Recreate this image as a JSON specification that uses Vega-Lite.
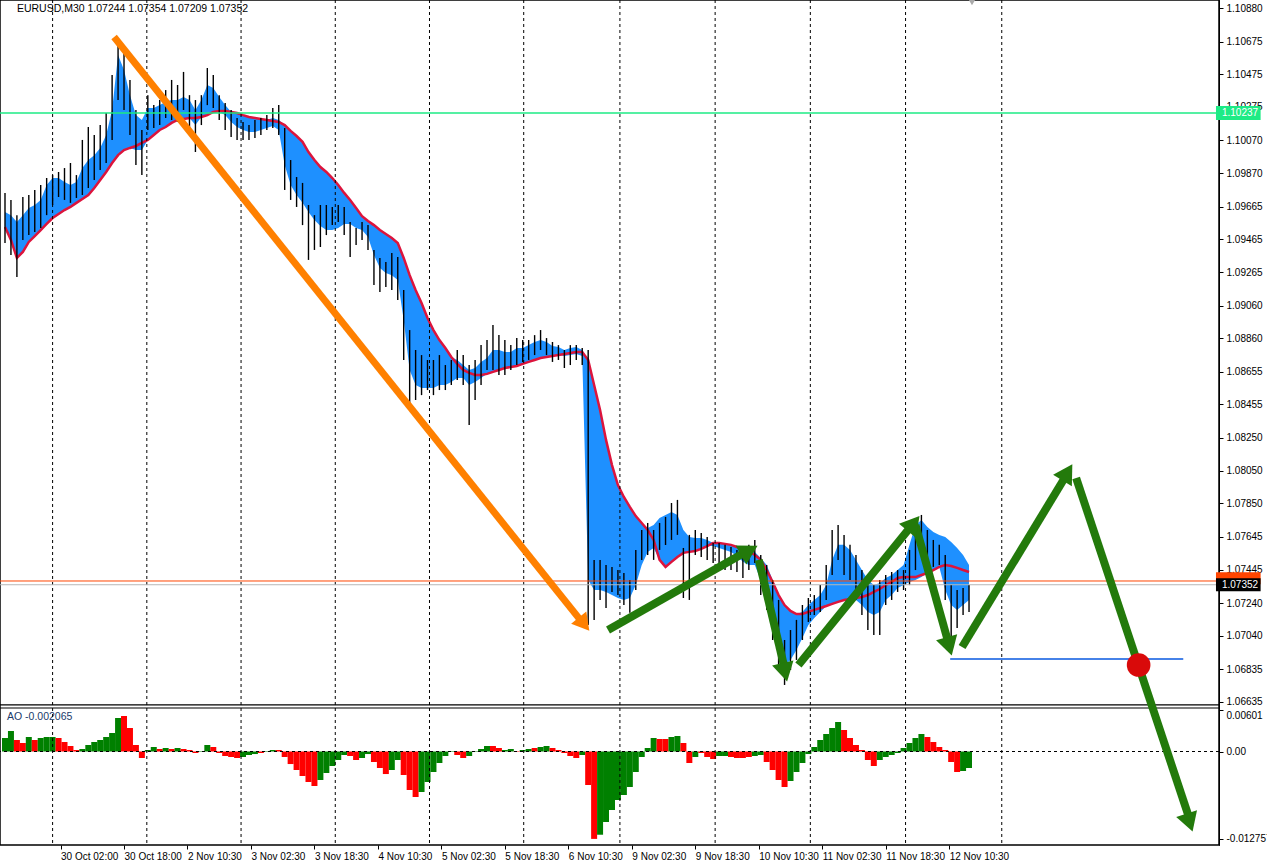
{
"$schema": "https://vega.github.io/schema/vega-lite/v6.json",
"width": 1219, "height": 845,
"autosize": {"type": "none"},
"padding": {"left": 0, "top": 0, "right": 48, "bottom": 17},
"background": "white",
"config": {"view": {"stroke": "black", "strokeWidth": 1.5}, "axis": {"labelFont": "Liberation Sans", "labelFontSize": 10, "labelColor": "#000000", "tickColor": "#000000", "domainColor": "#000000", "tickSize": 4}, "text": {"font": "Liberation Sans"}},
"datasets": {
"bars": [
{"i":0,"h":1.09749,"l":1.09443,"m":1.09540,"a":1.09632,"b":1.09540,"ao":0.00197,"c":"g"},
{"i":3,"h":1.09706,"l":1.09369,"m":1.09461,"a":1.09613,"b":1.09461,"ao":0.00299,"c":"g"},
{"i":6,"h":1.09613,"l":1.09234,"m":1.09351,"a":1.09571,"b":1.09351,"ao":0.00168,"c":"r"},
{"i":9,"h":1.09724,"l":1.09461,"m":1.09388,"a":1.09613,"b":1.09388,"ao":0.00124,"c":"r"},
{"i":12,"h":1.09736,"l":1.09491,"m":1.09449,"a":1.09657,"b":1.09449,"ao":0.00212,"c":"g"},
{"i":15,"h":1.09767,"l":1.09510,"m":1.09485,"a":1.09675,"b":1.09485,"ao":0.00168,"c":"r"},
{"i":18,"h":1.09797,"l":1.09534,"m":1.09522,"a":1.09706,"b":1.09522,"ao":0.00197,"c":"g"},
{"i":21,"h":1.09840,"l":1.09613,"m":1.09559,"a":1.09797,"b":1.09559,"ao":0.00212,"c":"g"},
{"i":24,"h":1.09858,"l":1.09675,"m":1.09595,"a":1.09840,"b":1.09595,"ao":0.00212,"c":"g"},
{"i":27,"h":1.09877,"l":1.09724,"m":1.09620,"a":1.09840,"b":1.09620,"ao":0.00197,"c":"r"},
{"i":30,"h":1.09901,"l":1.09706,"m":1.09644,"a":1.09816,"b":1.09644,"ao":0.00139,"c":"r"},
{"i":33,"h":1.09932,"l":1.09688,"m":1.09663,"a":1.09797,"b":1.09663,"ao":0.00080,"c":"r"},
{"i":36,"h":1.09858,"l":1.09718,"m":1.09688,"a":1.09816,"b":1.09688,"ao":0.00022,"c":"r"},
{"i":39,"h":1.10073,"l":1.09736,"m":1.09712,"a":1.09901,"b":1.09712,"ao":0.00037,"c":"g"},
{"i":42,"h":1.10152,"l":1.09779,"m":1.09736,"a":1.09950,"b":1.09736,"ao":0.00095,"c":"g"},
{"i":45,"h":1.10103,"l":1.09828,"m":1.09779,"a":1.09980,"b":1.09779,"ao":0.00139,"c":"g"},
{"i":48,"h":1.10164,"l":1.09889,"m":1.09828,"a":1.10024,"b":1.09828,"ao":0.00168,"c":"g"},
{"i":51,"h":1.10238,"l":1.09932,"m":1.09877,"a":1.10103,"b":1.09877,"ao":0.00212,"c":"g"},
{"i":54,"h":1.10470,"l":1.10073,"m":1.09932,"a":1.10256,"b":1.09932,"ao":0.00270,"c":"g"},
{"i":57,"h":1.10690,"l":1.10317,"m":1.09980,"a":1.10592,"b":1.09980,"ao":0.00489,"c":"g"},
{"i":60,"h":1.10653,"l":1.10256,"m":1.10011,"a":1.10501,"b":1.10011,"ao":0.00518,"c":"r"},
{"i":63,"h":1.10440,"l":1.10103,"m":1.10024,"a":1.10347,"b":1.10024,"ao":0.00343,"c":"r"},
{"i":66,"h":1.10256,"l":1.09919,"m":1.10036,"a":1.10225,"b":1.10011,"ao":0.00095,"c":"r"},
{"i":69,"h":1.10134,"l":1.09858,"m":1.10055,"a":1.10195,"b":1.10011,"ao":-0.00095,"c":"r"},
{"i":72,"h":1.10347,"l":1.10134,"m":1.10073,"a":1.10268,"b":1.10073,"ao":0.00022,"c":"g"},
{"i":75,"h":1.10286,"l":1.10146,"m":1.10103,"a":1.10268,"b":1.10103,"ao":0.00066,"c":"g"},
{"i":78,"h":1.10317,"l":1.10164,"m":1.10134,"a":1.10286,"b":1.10134,"ao":0.00037,"c":"r"},
{"i":81,"h":1.10378,"l":1.10207,"m":1.10152,"a":1.10305,"b":1.10152,"ao":0.00051,"c":"g"},
{"i":84,"h":1.10440,"l":1.10195,"m":1.10177,"a":1.10317,"b":1.10177,"ao":0.00037,"c":"r"},
{"i":87,"h":1.10409,"l":1.10183,"m":1.10195,"a":1.10317,"b":1.10195,"ao":0.00051,"c":"g"},
{"i":90,"h":1.10489,"l":1.10256,"m":1.10201,"a":1.10335,"b":1.10201,"ao":0.00037,"c":"r"},
{"i":93,"h":1.10347,"l":1.10146,"m":1.10207,"a":1.10317,"b":1.10207,"ao":0.00022,"c":"r"},
{"i":96,"h":1.10317,"l":1.09999,"m":1.10207,"a":1.10256,"b":1.10164,"ao":-0.00022,"c":"r"},
{"i":99,"h":1.10347,"l":1.10164,"m":1.10213,"a":1.10317,"b":1.10213,"ao":-0.00007,"c":"g"},
{"i":102,"h":1.10513,"l":1.10286,"m":1.10225,"a":1.10409,"b":1.10225,"ao":0.00095,"c":"g"},
{"i":105,"h":1.10470,"l":1.10268,"m":1.10244,"a":1.10391,"b":1.10244,"ao":0.00066,"c":"r"},
{"i":108,"h":1.10347,"l":1.10195,"m":1.10250,"a":1.10335,"b":1.10244,"ao":-0.00022,"c":"r"},
{"i":111,"h":1.10299,"l":1.10134,"m":1.10250,"a":1.10286,"b":1.10225,"ao":-0.00066,"c":"r"},
{"i":114,"h":1.10256,"l":1.10091,"m":1.10244,"a":1.10244,"b":1.10183,"ao":-0.00080,"c":"r"},
{"i":117,"h":1.10207,"l":1.10073,"m":1.10238,"a":1.10238,"b":1.10152,"ao":-0.00095,"c":"r"},
{"i":120,"h":1.10183,"l":1.10073,"m":1.10225,"a":1.10225,"b":1.10134,"ao":-0.00080,"c":"g"},
{"i":123,"h":1.10164,"l":1.10073,"m":1.10213,"a":1.10213,"b":1.10122,"ao":-0.00051,"c":"g"},
{"i":126,"h":1.10195,"l":1.10085,"m":1.10207,"a":1.10207,"b":1.10122,"ao":-0.00037,"c":"g"},
{"i":129,"h":1.10207,"l":1.10103,"m":1.10201,"a":1.10201,"b":1.10134,"ao":-0.00022,"c":"r"},
{"i":132,"h":1.10225,"l":1.10134,"m":1.10195,"a":1.10195,"b":1.10146,"ao":-0.00007,"c":"g"},
{"i":135,"h":1.10268,"l":1.10146,"m":1.10189,"a":1.10207,"b":1.10158,"ao":0.00022,"c":"g"},
{"i":138,"h":1.10286,"l":1.10103,"m":1.10183,"a":1.10195,"b":1.10134,"ao":0.00022,"c":"r"},
{"i":141,"h":1.10146,"l":1.09767,"m":1.10164,"a":1.10164,"b":1.09919,"ao":-0.00080,"c":"r"},
{"i":144,"h":1.09950,"l":1.09706,"m":1.10128,"a":1.10128,"b":1.09797,"ao":-0.00183,"c":"r"},
{"i":147,"h":1.09846,"l":1.09663,"m":1.10097,"a":1.10097,"b":1.09736,"ao":-0.00270,"c":"r"},
{"i":150,"h":1.09810,"l":1.09552,"m":1.10061,"a":1.10061,"b":1.09688,"ao":-0.00358,"c":"r"},
{"i":153,"h":1.09675,"l":1.09339,"m":1.09999,"a":1.09999,"b":1.09632,"ao":-0.00445,"c":"r"},
{"i":156,"h":1.09613,"l":1.09400,"m":1.09950,"a":1.09950,"b":1.09583,"ao":-0.00504,"c":"r"},
{"i":159,"h":1.09675,"l":1.09418,"m":1.09907,"a":1.09907,"b":1.09546,"ao":-0.00416,"c":"g"},
{"i":162,"h":1.09675,"l":1.09491,"m":1.09877,"a":1.09877,"b":1.09522,"ao":-0.00314,"c":"g"},
{"i":165,"h":1.09663,"l":1.09552,"m":1.09840,"a":1.09840,"b":1.09522,"ao":-0.00212,"c":"g"},
{"i":168,"h":1.09675,"l":1.09571,"m":1.09797,"a":1.09797,"b":1.09534,"ao":-0.00124,"c":"g"},
{"i":171,"h":1.09663,"l":1.09491,"m":1.09749,"a":1.09749,"b":1.09559,"ao":-0.00051,"c":"g"},
{"i":174,"h":1.09571,"l":1.09357,"m":1.09706,"a":1.09706,"b":1.09559,"ao":-0.00066,"c":"r"},
{"i":177,"h":1.09534,"l":1.09430,"m":1.09657,"a":1.09657,"b":1.09534,"ao":-0.00124,"c":"r"},
{"i":180,"h":1.09571,"l":1.09461,"m":1.09607,"a":1.09607,"b":1.09522,"ao":-0.00095,"c":"g"},
{"i":183,"h":1.09552,"l":1.09400,"m":1.09577,"a":1.09577,"b":1.09479,"ao":-0.00037,"c":"g"},
{"i":186,"h":1.09400,"l":1.09185,"m":1.09552,"a":1.09552,"b":1.09369,"ao":-0.00153,"c":"r"},
{"i":189,"h":1.09351,"l":1.09143,"m":1.09522,"a":1.09522,"b":1.09290,"ao":-0.00241,"c":"r"},
{"i":192,"h":1.09327,"l":1.09173,"m":1.09498,"a":1.09498,"b":1.09259,"ao":-0.00329,"c":"r"},
{"i":195,"h":1.09382,"l":1.09155,"m":1.09473,"a":1.09473,"b":1.09246,"ao":-0.00270,"c":"g"},
{"i":198,"h":1.09357,"l":1.09094,"m":1.09443,"a":1.09443,"b":1.09216,"ao":-0.00124,"c":"g"},
{"i":201,"h":1.09155,"l":1.08727,"m":1.09351,"a":1.09351,"b":1.08972,"ao":-0.00343,"c":"r"},
{"i":204,"h":1.08910,"l":1.08421,"m":1.09246,"a":1.09246,"b":1.08666,"ao":-0.00562,"c":"r"},
{"i":207,"h":1.08788,"l":1.08482,"m":1.09155,"a":1.09155,"b":1.08574,"ao":-0.00664,"c":"r"},
{"i":210,"h":1.08757,"l":1.08512,"m":1.09076,"a":1.09076,"b":1.08556,"ao":-0.00591,"c":"g"},
{"i":213,"h":1.08727,"l":1.08543,"m":1.08984,"a":1.08984,"b":1.08556,"ao":-0.00445,"c":"g"},
{"i":216,"h":1.08727,"l":1.08512,"m":1.08910,"a":1.08910,"b":1.08556,"ao":-0.00299,"c":"g"},
{"i":219,"h":1.08757,"l":1.08543,"m":1.08849,"a":1.08849,"b":1.08574,"ao":-0.00168,"c":"g"},
{"i":222,"h":1.08696,"l":1.08543,"m":1.08800,"a":1.08800,"b":1.08574,"ao":-0.00066,"c":"g"},
{"i":225,"h":1.08727,"l":1.08574,"m":1.08745,"a":1.08745,"b":1.08593,"ao":-0.00007,"c":"g"},
{"i":228,"h":1.08788,"l":1.08605,"m":1.08703,"a":1.08727,"b":1.08617,"ao":-0.00051,"c":"r"},
{"i":231,"h":1.08757,"l":1.08574,"m":1.08666,"a":1.08696,"b":1.08617,"ao":-0.00095,"c":"r"},
{"i":234,"h":1.08696,"l":1.08329,"m":1.08648,"a":1.08666,"b":1.08574,"ao":-0.00066,"c":"g"},
{"i":237,"h":1.08727,"l":1.08482,"m":1.08635,"a":1.08678,"b":1.08593,"ao":-0.00007,"c":"g"},
{"i":240,"h":1.08818,"l":1.08574,"m":1.08635,"a":1.08715,"b":1.08617,"ao":0.00037,"c":"g"},
{"i":243,"h":1.08849,"l":1.08666,"m":1.08642,"a":1.08739,"b":1.08642,"ao":0.00080,"c":"g"},
{"i":246,"h":1.08941,"l":1.08666,"m":1.08654,"a":1.08788,"b":1.08654,"ao":0.00080,"c":"r"},
{"i":249,"h":1.08879,"l":1.08635,"m":1.08666,"a":1.08788,"b":1.08666,"ao":0.00051,"c":"r"},
{"i":252,"h":1.08849,"l":1.08635,"m":1.08678,"a":1.08776,"b":1.08678,"ao":0.00022,"c":"g"},
{"i":255,"h":1.08818,"l":1.08666,"m":1.08684,"a":1.08776,"b":1.08684,"ao":0.00037,"c":"g"},
{"i":258,"h":1.08861,"l":1.08696,"m":1.08690,"a":1.08800,"b":1.08690,"ao":0.00007,"c":"r"},
{"i":261,"h":1.08849,"l":1.08715,"m":1.08703,"a":1.08800,"b":1.08703,"ao":0.00022,"c":"g"},
{"i":264,"h":1.08849,"l":1.08727,"m":1.08715,"a":1.08818,"b":1.08715,"ao":0.00037,"c":"g"},
{"i":267,"h":1.08879,"l":1.08757,"m":1.08727,"a":1.08837,"b":1.08727,"ao":0.00051,"c":"r"},
{"i":270,"h":1.08910,"l":1.08788,"m":1.08739,"a":1.08849,"b":1.08739,"ao":0.00066,"c":"g"},
{"i":273,"h":1.08861,"l":1.08757,"m":1.08745,"a":1.08837,"b":1.08745,"ao":0.00080,"c":"g"},
{"i":276,"h":1.08837,"l":1.08715,"m":1.08751,"a":1.08812,"b":1.08751,"ao":0.00051,"c":"r"},
{"i":279,"h":1.08818,"l":1.08727,"m":1.08757,"a":1.08806,"b":1.08757,"ao":0.00022,"c":"r"},
{"i":282,"h":1.08788,"l":1.08678,"m":1.08764,"a":1.08788,"b":1.08751,"ao":-0.00022,"c":"r"},
{"i":285,"h":1.08818,"l":1.08696,"m":1.08770,"a":1.08800,"b":1.08757,"ao":-0.00066,"c":"r"},
{"i":288,"h":1.08818,"l":1.08727,"m":1.08776,"a":1.08806,"b":1.08764,"ao":-0.00095,"c":"r"},
{"i":291,"h":1.08800,"l":1.08696,"m":1.08776,"a":1.08788,"b":1.08751,"ao":-0.00051,"c":"g"},
{"i":294,"h":1.08788,"l":1.07106,"m":1.08727,"a":1.08727,"b":1.07381,"ao":-0.00489,"c":"r"},
{"i":297,"h":1.07504,"l":1.07137,"m":1.08574,"a":1.08574,"b":1.07320,"ao":-0.01276,"c":"r"},
{"i":300,"h":1.07504,"l":1.07259,"m":1.08421,"a":1.08421,"b":1.07320,"ao":-0.01215,"c":"g"},
{"i":303,"h":1.07473,"l":1.07210,"m":1.08238,"a":1.08238,"b":1.07308,"ao":-0.01029,"c":"g"},
{"i":306,"h":1.07461,"l":1.07308,"m":1.08084,"a":1.08084,"b":1.07289,"ao":-0.00854,"c":"g"},
{"i":309,"h":1.07442,"l":1.07289,"m":1.07962,"a":1.07962,"b":1.07271,"ao":-0.00708,"c":"g"},
{"i":312,"h":1.07424,"l":1.07228,"m":1.07889,"a":1.07889,"b":1.07259,"ao":-0.00635,"c":"g"},
{"i":315,"h":1.07381,"l":1.07180,"m":1.07828,"a":1.07828,"b":1.07271,"ao":-0.00518,"c":"g"},
{"i":318,"h":1.07565,"l":1.07320,"m":1.07772,"a":1.07772,"b":1.07350,"ao":-0.00299,"c":"g"},
{"i":321,"h":1.07687,"l":1.07504,"m":1.07730,"a":1.07730,"b":1.07473,"ao":-0.00080,"c":"g"},
{"i":324,"h":1.07730,"l":1.07534,"m":1.07687,"a":1.07699,"b":1.07553,"ao":0.00051,"c":"g"},
{"i":327,"h":1.07687,"l":1.07504,"m":1.07626,"a":1.07718,"b":1.07577,"ao":0.00197,"c":"g"},
{"i":330,"h":1.07730,"l":1.07565,"m":1.07504,"a":1.07760,"b":1.07504,"ao":0.00183,"c":"r"},
{"i":333,"h":1.07767,"l":1.07595,"m":1.07461,"a":1.07779,"b":1.07461,"ao":0.00183,"c":"r"},
{"i":336,"h":1.07852,"l":1.07626,"m":1.07492,"a":1.07797,"b":1.07492,"ao":0.00212,"c":"g"},
{"i":339,"h":1.07871,"l":1.07657,"m":1.07522,"a":1.07779,"b":1.07522,"ao":0.00226,"c":"g"},
{"i":342,"h":1.07577,"l":1.07271,"m":1.07547,"a":1.07687,"b":1.07547,"ao":0.00124,"c":"r"},
{"i":345,"h":1.07657,"l":1.07259,"m":1.07553,"a":1.07644,"b":1.07553,"ao":-0.00168,"c":"r"},
{"i":348,"h":1.07687,"l":1.07534,"m":1.07559,"a":1.07638,"b":1.07559,"ao":-0.00080,"c":"g"},
{"i":351,"h":1.07669,"l":1.07522,"m":1.07571,"a":1.07638,"b":1.07571,"ao":-0.00022,"c":"r"},
{"i":354,"h":1.07644,"l":1.07504,"m":1.07589,"a":1.07626,"b":1.07589,"ao":-0.00080,"c":"r"},
{"i":357,"h":1.07608,"l":1.07485,"m":1.07608,"a":1.07608,"b":1.07589,"ao":-0.00110,"c":"r"},
{"i":360,"h":1.07608,"l":1.07473,"m":1.07608,"a":1.07608,"b":1.07577,"ao":-0.00066,"c":"g"},
{"i":363,"h":1.07596,"l":1.07442,"m":1.07602,"a":1.07602,"b":1.07565,"ao":-0.00066,"c":"g"},
{"i":366,"h":1.07583,"l":1.07442,"m":1.07596,"a":1.07596,"b":1.07553,"ao":-0.00080,"c":"r"},
{"i":369,"h":1.07565,"l":1.07430,"m":1.07583,"a":1.07583,"b":1.07528,"ao":-0.00095,"c":"r"},
{"i":372,"h":1.07534,"l":1.07393,"m":1.07571,"a":1.07571,"b":1.07492,"ao":-0.00095,"c":"r"},
{"i":375,"h":1.07596,"l":1.07442,"m":1.07559,"a":1.07565,"b":1.07473,"ao":-0.00080,"c":"r"},
{"i":378,"h":1.07626,"l":1.07485,"m":1.07534,"a":1.07553,"b":1.07473,"ao":-0.00066,"c":"g"},
{"i":381,"h":1.07534,"l":1.07289,"m":1.07504,"a":1.07516,"b":1.07381,"ao":-0.00051,"c":"g"},
{"i":384,"h":1.07473,"l":1.07198,"m":1.07442,"a":1.07473,"b":1.07289,"ao":-0.00153,"c":"r"},
{"i":387,"h":1.07381,"l":1.07014,"m":1.07369,"a":1.07381,"b":1.07137,"ao":-0.00270,"c":"r"},
{"i":390,"h":1.07259,"l":1.06831,"m":1.07289,"a":1.07289,"b":1.06984,"ao":-0.00416,"c":"r"},
{"i":393,"h":1.07014,"l":1.06739,"m":1.07228,"a":1.07228,"b":1.06861,"ao":-0.00518,"c":"r"},
{"i":396,"h":1.07075,"l":1.06831,"m":1.07192,"a":1.07192,"b":1.06892,"ao":-0.00431,"c":"g"},
{"i":399,"h":1.07137,"l":1.06892,"m":1.07173,"a":1.07173,"b":1.06953,"ao":-0.00299,"c":"g"},
{"i":402,"h":1.07228,"l":1.07014,"m":1.07173,"a":1.07186,"b":1.07026,"ao":-0.00168,"c":"g"},
{"i":405,"h":1.07271,"l":1.07124,"m":1.07186,"a":1.07228,"b":1.07106,"ao":-0.00037,"c":"g"},
{"i":408,"h":1.07289,"l":1.07167,"m":1.07198,"a":1.07259,"b":1.07149,"ao":0.00066,"c":"g"},
{"i":411,"h":1.07350,"l":1.07186,"m":1.07210,"a":1.07289,"b":1.07186,"ao":0.00168,"c":"g"},
{"i":414,"h":1.07473,"l":1.07259,"m":1.07222,"a":1.07350,"b":1.07222,"ao":0.00256,"c":"g"},
{"i":417,"h":1.07687,"l":1.07412,"m":1.07235,"a":1.07504,"b":1.07235,"ao":0.00343,"c":"g"},
{"i":420,"h":1.07718,"l":1.07504,"m":1.07247,"a":1.07596,"b":1.07247,"ao":0.00431,"c":"g"},
{"i":423,"h":1.07657,"l":1.07412,"m":1.07259,"a":1.07596,"b":1.07259,"ao":0.00314,"c":"r"},
{"i":426,"h":1.07596,"l":1.07381,"m":1.07265,"a":1.07565,"b":1.07265,"ao":0.00197,"c":"r"},
{"i":429,"h":1.07534,"l":1.07259,"m":1.07271,"a":1.07504,"b":1.07259,"ao":0.00095,"c":"r"},
{"i":432,"h":1.07442,"l":1.07167,"m":1.07277,"a":1.07442,"b":1.07228,"ao":0.00022,"c":"r"},
{"i":435,"h":1.07350,"l":1.07075,"m":1.07289,"a":1.07381,"b":1.07186,"ao":-0.00124,"c":"r"},
{"i":438,"h":1.07350,"l":1.07045,"m":1.07308,"a":1.07350,"b":1.07167,"ao":-0.00212,"c":"r"},
{"i":441,"h":1.07381,"l":1.07045,"m":1.07326,"a":1.07363,"b":1.07186,"ao":-0.00124,"c":"g"},
{"i":444,"h":1.07412,"l":1.07228,"m":1.07350,"a":1.07393,"b":1.07259,"ao":-0.00080,"c":"g"},
{"i":447,"h":1.07430,"l":1.07259,"m":1.07369,"a":1.07412,"b":1.07289,"ao":-0.00051,"c":"g"},
{"i":450,"h":1.07442,"l":1.07308,"m":1.07393,"a":1.07442,"b":1.07332,"ao":-0.00022,"c":"g"},
{"i":453,"h":1.07442,"l":1.07320,"m":1.07399,"a":1.07473,"b":1.07350,"ao":0.00051,"c":"g"},
{"i":456,"h":1.07565,"l":1.07350,"m":1.07399,"a":1.07596,"b":1.07369,"ao":0.00124,"c":"g"},
{"i":459,"h":1.07718,"l":1.07442,"m":1.07399,"a":1.07718,"b":1.07381,"ao":0.00197,"c":"g"},
{"i":462,"h":1.07779,"l":1.07596,"m":1.07412,"a":1.07748,"b":1.07399,"ao":0.00256,"c":"g"},
{"i":465,"h":1.07687,"l":1.07504,"m":1.07424,"a":1.07705,"b":1.07424,"ao":0.00212,"c":"r"},
{"i":468,"h":1.07626,"l":1.07461,"m":1.07442,"a":1.07675,"b":1.07442,"ao":0.00139,"c":"r"},
{"i":471,"h":1.07596,"l":1.07473,"m":1.07461,"a":1.07657,"b":1.07461,"ao":0.00066,"c":"r"},
{"i":474,"h":1.07534,"l":1.07259,"m":1.07473,"a":1.07644,"b":1.07320,"ao":0.00022,"c":"r"},
{"i":477,"h":1.07350,"l":1.07014,"m":1.07467,"a":1.07614,"b":1.07228,"ao":-0.00153,"c":"r"},
{"i":480,"h":1.07320,"l":1.07088,"m":1.07455,"a":1.07577,"b":1.07198,"ao":-0.00299,"c":"r"},
{"i":483,"h":1.07332,"l":1.07167,"m":1.07442,"a":1.07534,"b":1.07228,"ao":-0.00285,"c":"g"},
{"i":486,"h":1.07350,"l":1.07186,"m":1.07430,"a":1.07473,"b":1.07259,"ao":-0.00241,"c":"g"}
],
"grid": [{"g":24},{"g":71.5},{"g":119},{"g":166.5},{"g":214},{"g":261.5},{"g":310},{"g":358},{"g":406},{"g":454},{"g":502.5}],
"greenArrows": [
{"k":1,"i":304,"p":1.07075},{"k":1,"i":372.5,"p":1.07546},
{"k":2,"i":380,"p":1.07504},{"k":2,"i":393,"p":1.06843},
{"k":3,"i":400,"p":1.06861},{"k":3,"i":456.5,"p":1.07705},
{"k":4,"i":459,"p":1.07717},{"k":4,"i":475.5,"p":1.07002},
{"k":5,"i":482.5,"p":1.06971},{"k":5,"i":534.5,"p":1.08011},
{"k":6,"i":540,"p":1.08005},{"k":6,"i":596.5,"p":1.05944}
],
"orangeArrow": [{"i":55,"p":1.10703},{"i":290,"p":1.07137}]
},
"data": {"name": "bars"},
"resolve": {"scale": {"y": "independent"}, "axis": {"y": "independent"}},
"layer": [
{"mark": {"type": "bar", "width": 6, "opacity": 1},
 "encoding": {
  "x": {"field": "i", "type": "quantitative", "scale": {"domain": [0, 609.5], "nice": false, "zero": false},
        "axis": {"orient": "bottom", "values": [-4, 28, 60, 92, 124, 156, 188, 220, 252, 284, 316, 348, 380, 412, 444, 476], "labelExpr": "['29 Oct 2015','30 Oct 02:00','30 Oct 18:00','2 Nov 10:30','3 Nov 02:30','3 Nov 18:30','4 Nov 10:30','5 Nov 02:30','5 Nov 18:30','6 Nov 10:30','9 Nov 02:30','9 Nov 18:30','10 Nov 10:30','11 Nov 02:30','11 Nov 18:30','12 Nov 10:30'][round((datum.value + 4) / 32)]", "labelAlign": "left", "labelOffset": 0, "labelPadding": 2, "tickSize": 4, "grid": false, "domain": false, "title": null, "labelOverlap": false, "labelBound": false, "labelFlush": false}},
  "y": {"field": "ao", "type": "quantitative", "scale": {"domain": [-0.01365, 0.10972], "nice": false, "zero": false},
        "axis": {"orient": "right", "values": [0.00601, 0, -0.012757], "labelExpr": "datum.value == 0 ? '0.00' : (datum.value > 0 ? '0.00601' : '-0.012757')", "labelBaseline": {"condition": {"test": "datum.value > 0.001", "value": "top"}, "value": "middle"}, "title": null, "grid": false, "tickSize": 4, "labelPadding": 3}},
  "y2": {"datum": 0},
  "color": {"field": "c", "type": "nominal", "scale": {"domain": ["g", "r"], "range": ["#008000", "#FF0000"]}, "legend": null}
 }},
{"data": {"values": [{}]}, "mark": {"type": "rule", "color": "black", "strokeWidth": 1, "strokeDash": [3, 3]},
 "encoding": {"y": {"datum": 0, "type": "quantitative", "scale": {"domain": [-0.01365, 0.10972], "nice": false, "zero": false}, "axis": null}}},
{"data": {"values": [{}]}, "mark": {"type": "text", "align": "left", "baseline": "middle", "fontSize": 10.5, "color": "#1a3a6b", "text": "AO -0.002065"},
 "encoding": {"x": {"datum": 1, "type": "quantitative", "scale": {"domain": [0, 609.5], "nice": false, "zero": false}},
  "y": {"datum": 0.00504, "type": "quantitative", "scale": {"domain": [-0.01365, 0.10972], "nice": false, "zero": false}, "axis": null}}},
{"mark": {"type": "area", "color": "#1E90FF", "opacity": 1},
 "encoding": {
  "x": {"field": "i", "type": "quantitative", "scale": {"domain": [0, 609.5], "nice": false, "zero": false}},
  "y": {"field": "a", "type": "quantitative", "scale": {"domain": [1.0576, 1.10929], "nice": false, "zero": false},
        "axis": {"orient": "right", "values": [1.1088, 1.10675, 1.10475, 1.10275, 1.1007, 1.0987, 1.09665, 1.09465, 1.09265, 1.0906, 1.0886, 1.08655, 1.08455, 1.0825, 1.0805, 1.0785, 1.07645, 1.07445, 1.0724, 1.0704, 1.06835, 1.06635], "format": ".5f", "title": null, "grid": false, "tickSize": 4, "labelPadding": 3}},
  "y2": {"field": "b"}
 }},
{"mark": {"type": "line", "color": "#DC143C", "strokeWidth": 2.5},
 "encoding": {
  "x": {"field": "i", "type": "quantitative", "scale": {"domain": [0, 609.5], "nice": false, "zero": false}},
  "y": {"field": "m", "type": "quantitative", "scale": {"domain": [1.0576, 1.10929], "nice": false, "zero": false}, "axis": null}
 }},
{"data": {"name": "grid"}, "mark": {"type": "rule", "color": "black", "strokeWidth": 1, "strokeDash": [3, 3]},
 "encoding": {
  "x": {"field": "g", "type": "quantitative", "scale": {"domain": [0, 609.5], "nice": false, "zero": false}}
 }},
{"mark": {"type": "rule", "color": "black", "strokeWidth": 1.4},
 "encoding": {
  "x": {"field": "i", "type": "quantitative", "scale": {"domain": [0, 609.5], "nice": false, "zero": false}},
  "y": {"field": "h", "type": "quantitative", "scale": {"domain": [1.0576, 1.10929], "nice": false, "zero": false}, "axis": null},
  "y2": {"field": "l"}
 }},
{"data": {"values": [{}]}, "mark": {"type": "rule", "color": "#1DEB85", "strokeWidth": 1.5},
 "encoding": {"y": {"datum": 1.10237, "type": "quantitative", "scale": {"domain": [1.0576, 1.10929], "nice": false, "zero": false}, "axis": null}}},
{"data": {"values": [{}]}, "mark": {"type": "rule", "color": "#FF4500", "strokeWidth": 1},
 "encoding": {"y": {"datum": 1.07375, "type": "quantitative", "scale": {"domain": [1.0576, 1.10929], "nice": false, "zero": false}, "axis": null}}},
{"data": {"values": [{}]}, "mark": {"type": "rule", "color": "#B8B8B8", "strokeWidth": 1},
 "encoding": {"y": {"datum": 1.07352, "type": "quantitative", "scale": {"domain": [1.0576, 1.10929], "nice": false, "zero": false}, "axis": null}}},
{"data": {"values": [{}]}, "mark": {"type": "rule", "color": "black", "strokeWidth": 1.2},
 "encoding": {"y": {"datum": 1.06617, "type": "quantitative", "scale": {"domain": [1.0576, 1.10929], "nice": false, "zero": false}, "axis": null}}},
{"data": {"values": [{}]}, "mark": {"type": "rule", "color": "black", "strokeWidth": 1.2},
 "encoding": {"y": {"datum": 1.06598, "type": "quantitative", "scale": {"domain": [1.0576, 1.10929], "nice": false, "zero": false}, "axis": null}}},
{"data": {"values": [{}]}, "mark": {"type": "rule", "color": "#4682E8", "strokeWidth": 2},
 "encoding": {"x": {"datum": 476.5, "type": "quantitative", "scale": {"domain": [0, 609.5], "nice": false, "zero": false}}, "x2": {"datum": 594},
  "y": {"datum": 1.06898, "type": "quantitative", "scale": {"domain": [1.0576, 1.10929], "nice": false, "zero": false}, "axis": null}}},
{"data": {"name": "orangeArrow"}, "mark": {"type": "line", "color": "#FF8000", "strokeWidth": 7, "strokeCap": "butt", "clip": false},
 "encoding": {"x": {"field": "i", "type": "quantitative", "scale": {"domain": [0, 609.5], "nice": false, "zero": false}},
  "y": {"field": "p", "type": "quantitative", "scale": {"domain": [1.0576, 1.10929], "nice": false, "zero": false}, "axis": null}}},
{"data": {"values": [{}]}, "mark": {"type": "point", "shape": "triangle-up", "angle": 141, "filled": true, "color": "#FF8000", "opacity": 1, "size": 380},
 "encoding": {"x": {"datum": 291.9, "type": "quantitative", "scale": {"domain": [0, 609.5], "nice": false, "zero": false}},
  "y": {"datum": 1.07111, "type": "quantitative", "scale": {"domain": [1.0576, 1.10929], "nice": false, "zero": false}, "axis": null}}},
{"data": {"name": "greenArrows"}, "mark": {"type": "line", "color": "#237A0B", "strokeWidth": 8, "strokeCap": "butt", "clip": false},
 "encoding": {"x": {"field": "i", "type": "quantitative", "scale": {"domain": [0, 609.5], "nice": false, "zero": false}},
  "y": {"field": "p", "type": "quantitative", "scale": {"domain": [1.0576, 1.10929], "nice": false, "zero": false}, "axis": null},
  "detail": {"field": "k", "type": "nominal"}}},
{"data": {"values": [{}]}, "mark": {"type": "point", "shape": "triangle-up", "angle": 60.8, "filled": true, "color": "#237A0B", "opacity": 1, "size": 480},
 "encoding": {"x": {"datum": 375.2, "type": "quantitative", "scale": {"domain": [0, 609.5], "nice": false, "zero": false}},
  "y": {"datum": 1.07562, "type": "quantitative", "scale": {"domain": [1.0576, 1.10929], "nice": false, "zero": false}, "axis": null}}},
{"data": {"values": [{}]}, "mark": {"type": "point", "shape": "triangle-up", "angle": 166.7, "filled": true, "color": "#237A0B", "opacity": 1, "size": 480},
 "encoding": {"x": {"datum": 393.2, "type": "quantitative", "scale": {"domain": [0, 609.5], "nice": false, "zero": false}},
  "y": {"datum": 1.06817, "type": "quantitative", "scale": {"domain": [1.0576, 1.10929], "nice": false, "zero": false}, "axis": null}}},
{"data": {"values": [{}]}, "mark": {"type": "point", "shape": "triangle-up", "angle": 39.4, "filled": true, "color": "#237A0B", "opacity": 1, "size": 480},
 "encoding": {"x": {"datum": 458, "type": "quantitative", "scale": {"domain": [0, 609.5], "nice": false, "zero": false}},
  "y": {"datum": 1.07727, "type": "quantitative", "scale": {"domain": [1.0576, 1.10929], "nice": false, "zero": false}, "axis": null}}},
{"data": {"values": [{}]}, "mark": {"type": "point", "shape": "triangle-up", "angle": 164.3, "filled": true, "color": "#237A0B", "opacity": 1, "size": 480},
 "encoding": {"x": {"datum": 476, "type": "quantitative", "scale": {"domain": [0, 609.5], "nice": false, "zero": false}},
  "y": {"datum": 1.06975, "type": "quantitative", "scale": {"domain": [1.0576, 1.10929], "nice": false, "zero": false}, "axis": null}}},
{"data": {"values": [{}]}, "mark": {"type": "point", "shape": "triangle-up", "angle": 31.3, "filled": true, "color": "#237A0B", "opacity": 1, "size": 480},
 "encoding": {"x": {"datum": 535.6, "type": "quantitative", "scale": {"domain": [0, 609.5], "nice": false, "zero": false}},
  "y": {"datum": 1.08039, "type": "quantitative", "scale": {"domain": [1.0576, 1.10929], "nice": false, "zero": false}, "axis": null}}},
{"data": {"values": [{}]}, "mark": {"type": "point", "shape": "triangle-up", "angle": 161.6, "filled": true, "color": "#237A0B", "opacity": 1, "size": 480},
 "encoding": {"x": {"datum": 597.2, "type": "quantitative", "scale": {"domain": [0, 609.5], "nice": false, "zero": false}},
  "y": {"datum": 1.05897, "type": "quantitative", "scale": {"domain": [1.0576, 1.10929], "nice": false, "zero": false}, "axis": null}}},
{"data": {"values": [{}]}, "mark": {"type": "point", "shape": "circle", "filled": true, "color": "#D90A0A", "opacity": 1, "size": 560},
 "encoding": {"x": {"datum": 571.5, "type": "quantitative", "scale": {"domain": [0, 609.5], "nice": false, "zero": false}},
  "y": {"datum": 1.06861, "type": "quantitative", "scale": {"domain": [1.0576, 1.10929], "nice": false, "zero": false}, "axis": null}}},
{"data": {"values": [{}]}, "mark": {"type": "point", "shape": "triangle-down", "filled": true, "color": "#A9A9A9", "opacity": 1, "size": 50},
 "encoding": {"x": {"datum": 487.5, "type": "quantitative", "scale": {"domain": [0, 609.5], "nice": false, "zero": false}},
  "y": {"datum": 1.10915, "type": "quantitative", "scale": {"domain": [1.0576, 1.10929], "nice": false, "zero": false}, "axis": null}}},
{"data": {"values": [{}]}, "mark": {"type": "text", "align": "left", "baseline": "middle", "fontSize": 10.5, "color": "black", "text": "EURUSD,M30  1.07244 1.07354 1.07209 1.07352"},
 "encoding": {"x": {"datum": 6, "type": "quantitative", "scale": {"domain": [0, 609.5], "nice": false, "zero": false}},
  "y": {"datum": 1.10874, "type": "quantitative", "scale": {"domain": [1.0576, 1.10929], "nice": false, "zero": false}, "axis": null}}},
{"data": {"values": [{}]}, "mark": {"type": "rule", "color": "#1DEB85", "strokeWidth": 14, "clip": false},
 "encoding": {"x": {"datum": 610.5, "type": "quantitative", "scale": {"domain": [0, 609.5], "nice": false, "zero": false}}, "x2": {"datum": 633},
  "y": {"datum": 1.10237, "type": "quantitative", "scale": {"domain": [1.0576, 1.10929], "nice": false, "zero": false}, "axis": null}}},
{"data": {"values": [{}]}, "mark": {"type": "text", "align": "left", "baseline": "middle", "fontSize": 10, "color": "white", "text": "1.10237", "clip": false},
 "encoding": {"x": {"datum": 613.5, "type": "quantitative", "scale": {"domain": [0, 609.5], "nice": false, "zero": false}},
  "y": {"datum": 1.10237, "type": "quantitative", "scale": {"domain": [1.0576, 1.10929], "nice": false, "zero": false}, "axis": null}}},
{"data": {"values": [{}]}, "mark": {"type": "rule", "color": "#FF4500", "strokeWidth": 12, "clip": false},
 "encoding": {"x": {"datum": 610.5, "type": "quantitative", "scale": {"domain": [0, 609.5], "nice": false, "zero": false}}, "x2": {"datum": 633},
  "y": {"datum": 1.07392, "type": "quantitative", "scale": {"domain": [1.0576, 1.10929], "nice": false, "zero": false}, "axis": null}}},
{"data": {"values": [{}]}, "mark": {"type": "rule", "color": "black", "strokeWidth": 13, "clip": false},
 "encoding": {"x": {"datum": 610.5, "type": "quantitative", "scale": {"domain": [0, 609.5], "nice": false, "zero": false}}, "x2": {"datum": 633},
  "y": {"datum": 1.07352, "type": "quantitative", "scale": {"domain": [1.0576, 1.10929], "nice": false, "zero": false}, "axis": null}}},
{"data": {"values": [{}]}, "mark": {"type": "text", "align": "left", "baseline": "middle", "fontSize": 10, "color": "white", "text": "1.07352", "clip": false},
 "encoding": {"x": {"datum": 613.5, "type": "quantitative", "scale": {"domain": [0, 609.5], "nice": false, "zero": false}},
  "y": {"datum": 1.07352, "type": "quantitative", "scale": {"domain": [1.0576, 1.10929], "nice": false, "zero": false}, "axis": null}}}
]
}
